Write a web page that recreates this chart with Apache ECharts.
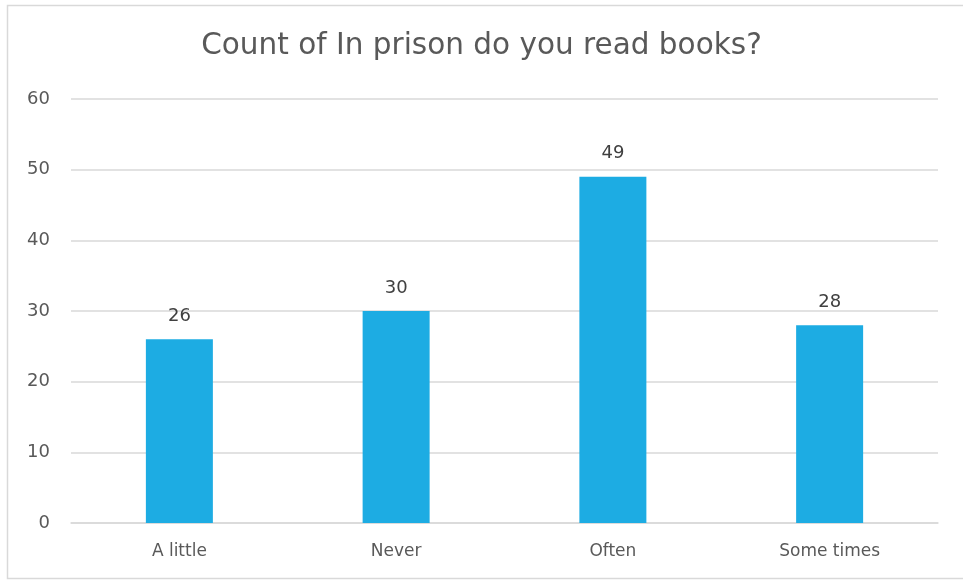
<!DOCTYPE html>
<html><head><meta charset="utf-8">
<script src="https://cdn.jsdelivr.net/npm/echarts@6/dist/echarts.min.js"></script>
<style>html,body{margin:0;padding:0;background:#fff}#c{width:963px;height:582px}</style>
</head><body><div id="c"></div>
<script>
const categories = ["A little", "Never", "Often", "Some times"];
const counts = [26, 30, 49, 28];
const yTicks = {min: 0, max: 60, interval: 10};
const titleText = "Count of In prison do you read books?";

const chart = echarts.init(document.getElementById('c'));
const font = "'DejaVu Sans', sans-serif";
chart.setOption({
  animation: false,
  backgroundColor: '#fff',
  graphic: [{type: 'rect', shape: {x: 7.5, y: 5.5, width: 970, height: 573}, style: {fill: 'none', stroke: '#d9d9d9', lineWidth: 1.5}, silent: true}],
  title: {text: titleText, left: 'center', top: 26, textStyle: {fontFamily: font, fontSize: 29.5, fontWeight: 'normal', color: '#595959'}},
  grid: {left: 71, right: 25, top: 99, bottom: 59},
  xAxis: {type: 'category', data: categories,
    axisLine: {lineStyle: {color: '#d9d9d9', width: 1.5}}, axisTick: {show: false},
    axisLabel: {fontFamily: font, fontSize: 17, color: '#595959', margin: 20}},
  yAxis: {type: 'value', min: yTicks.min, max: yTicks.max, interval: yTicks.interval,
    axisLine: {show: false}, axisTick: {show: false},
    splitLine: {lineStyle: {color: '#d9d9d9', width: 1.5}},
    axisLabel: {fontFamily: font, fontSize: 18, color: '#595959', margin: 21}},
  series: [{type: 'bar', data: counts, barWidth: 67, itemStyle: {color: '#1DACE3'},
    label: {show: true, position: 'top', distance: 14, fontFamily: font, fontSize: 18, color: '#404040'}}]
});
</script></body></html>
